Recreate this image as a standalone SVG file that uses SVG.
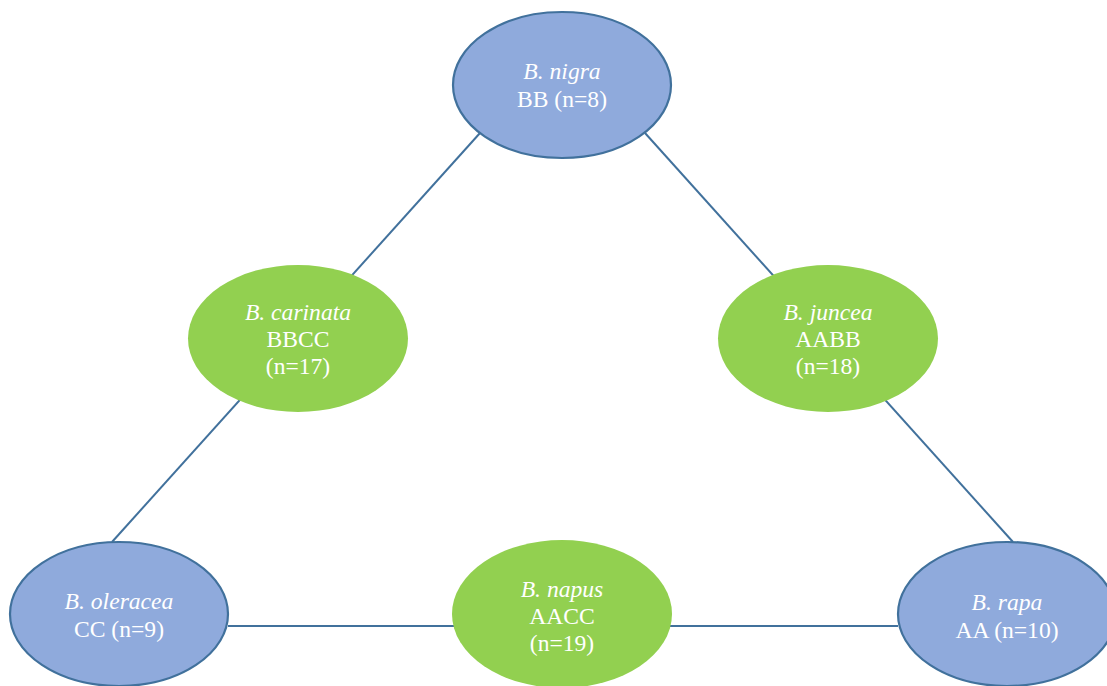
<svg xmlns="http://www.w3.org/2000/svg" width="1107" height="686" viewBox="0 0 1107 686">
<style>
.edge{stroke:#41719C;stroke-width:2;fill:none}
.blue{fill:#8FAADC;stroke:#41719C;stroke-width:2.2}
.green{fill:#92D050;stroke:none}
text{font-family:"Liberation Serif","Times New Roman",serif;font-size:23.6px;fill:#FFFFFF;text-anchor:middle}
.it{font-style:italic}
</style>
<rect width="1107" height="686" fill="#FFFFFF"/>
<g id="connectors">
<line class="edge" x1="480" y1="133" x2="112" y2="542"/>
<line class="edge" x1="645" y1="133" x2="1013" y2="542"/>
<line class="edge" x1="228" y1="626" x2="898" y2="626"/>
</g>
<g id="nigra">
<ellipse class="blue" cx="562" cy="85" rx="109" ry="73"/>
<text x="562" y="79" class="it">B. nigra</text>
<text x="562" y="107">BB (n=8)</text>
</g>
<g id="carinata">
<ellipse class="green" cx="298" cy="338.5" rx="110" ry="73.5"/>
<text x="298" y="320" class="it">B. carinata</text>
<text x="298" y="347">BBCC</text>
<text x="298" y="374">(n=17)</text>
</g>
<g id="juncea">
<ellipse class="green" cx="828" cy="338.5" rx="110" ry="73.5"/>
<text x="828" y="320" class="it">B. juncea</text>
<text x="828" y="347">AABB</text>
<text x="828" y="374">(n=18)</text>
</g>
<g id="oleracea">
<ellipse class="blue" cx="119" cy="614" rx="109" ry="72"/>
<text x="119" y="609" class="it">B. oleracea</text>
<text x="119" y="637">CC (n=9)</text>
</g>
<g id="napus">
<ellipse class="green" cx="562" cy="614" rx="110" ry="74"/>
<text x="562" y="597" class="it">B. napus</text>
<text x="562" y="624">AACC</text>
<text x="562" y="651">(n=19)</text>
</g>
<g id="rapa">
<ellipse class="blue" cx="1007" cy="614" rx="109" ry="72"/>
<text x="1007" y="610" class="it">B. rapa</text>
<text x="1007" y="638">AA (n=10)</text>
</g>
</svg>
